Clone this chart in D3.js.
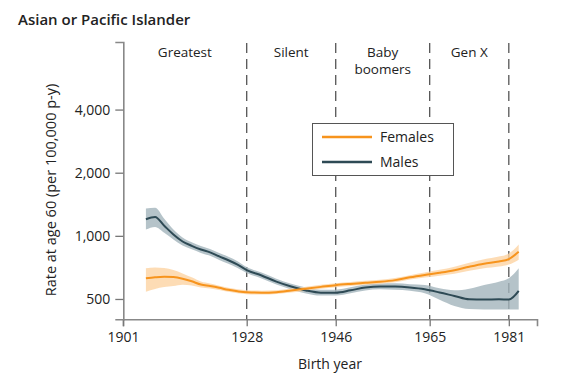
<!DOCTYPE html>
<html>
<head>
<meta charset="utf-8">
<script src="https://cdn.jsdelivr.net/npm/d3@7"></script>
<style>
  html, body { margin: 0; padding: 0; background: #fff; }
  svg { display: block; font-family: "Open Sans", sans-serif; }
</style>
</head>
<body>
<svg id="chart" width="579" height="383"></svg>
<script>
const title = "Asian or Pacific Islander";
const years = [1906, 1908, 1910, 1912, 1914, 1916, 1918, 1920, 1922, 1924, 1926, 1928, 1931, 1934, 1937, 1940, 1943, 1946, 1949, 1952, 1955, 1958, 1961, 1964, 1967, 1970, 1973, 1976, 1979, 1981, 1983];
const femalesRate = [627, 634, 638, 636, 625, 607, 586, 576, 565, 553, 544, 538, 536, 539, 549, 560, 571, 582, 590, 597, 604, 615, 634, 651, 667, 686, 712, 736, 754, 775, 839];
const femalesLow  = [541, 558, 570, 577, 585, 580, 567, 561, 552, 541, 532, 527, 525, 528, 537, 548, 559, 569, 577, 584, 591, 601, 619, 633, 646, 660, 681, 701, 714, 730, 770];
const femalesHigh = [700, 706, 702, 687, 662, 634, 605, 592, 578, 565, 556, 550, 548, 551, 561, 572, 584, 595, 603, 610, 617, 629, 649, 669, 689, 713, 744, 773, 796, 823, 910];
const malesRate = [1200, 1230, 1117, 1015, 940, 896, 861, 834, 798, 765, 729, 687, 647, 605, 573, 549, 536, 536, 550, 567, 574, 573, 567, 556, 537, 517, 498, 497, 498, 497, 547];
const malesLow  = [1072, 1103, 1034, 961, 900, 862, 829, 803, 768, 736, 702, 665, 626, 586, 555, 531, 519, 519, 532, 549, 556, 553, 548, 533, 496, 463, 448, 446, 446, 446, 446];
const malesHigh = [1350, 1360, 1206, 1072, 982, 931, 895, 866, 829, 795, 757, 710, 668, 625, 591, 567, 554, 554, 568, 586, 593, 594, 588, 583, 562, 550, 560, 583, 604, 627, 700];
const xTicks = [1901, 1928, 1946, 1965, 1981];
const yTicks = [500, 1000, 2000, 4000];
const generationNames = [["Greatest"], ["Silent"], ["Baby", "boomers"], ["Gen X"]];
const generationBounds = [1901, 1928, 1946, 1965, 1981];
const seriesNames = ["Females", "Males"];
const colors = { Females: "#F7941D", Males: "#2E4A55" };
const bandColors = { Females: "#FCD3A3", Males: "#A3B4BC" };

const svg = d3.select("#chart");
const x = d3.scaleLinear().domain([1901, 1928, 1986.7]).range([123, 246.7, 537]);
const y = d3.scaleLog().domain([400, 8400]).range([319.3, 42]);

// title
svg.append("text").attr("x", 18).attr("y", 25)
  .attr("font-size", 15).attr("font-weight", 600).attr("fill", "#222").text(title);

// dashed generation lines
svg.append("g").selectAll("line").data(generationBounds.slice(1)).join("line")
  .attr("x1", d => x(d)).attr("x2", d => x(d))
  .attr("y1", 43).attr("y2", 319)
  .attr("stroke", "#555").attr("stroke-width", 1.3)
  .attr("stroke-dasharray", "10,6");

// generation labels
generationNames.forEach((lines, i) => {
  const cx = (x(generationBounds[i]) + x(generationBounds[i + 1])) / 2;
  const t = svg.append("text").attr("text-anchor", "middle")
    .attr("font-size", 13.5).attr("fill", "#222");
  lines.forEach((ln, j) => {
    t.append("tspan").attr("x", cx).attr("y", 56.5 + j * 17.5).text(ln);
  });
});

// bands
const series = [
  { name: "Females", rate: femalesRate, low: femalesLow, high: femalesHigh },
  { name: "Males", rate: malesRate, low: malesLow, high: malesHigh }
];
const area = d3.area().curve(d3.curveMonotoneX);
const line = d3.line().curve(d3.curveMonotoneX);
series.slice().reverse().forEach(s => {
  svg.append("path")
    .attr("d", area.x((d, i) => x(years[i])).y0((d, i) => y(s.low[i])).y1((d, i) => y(s.high[i]))(years))
    .attr("fill", bandColors[s.name]).attr("fill-opacity", 0.8);
});
series.slice().reverse().forEach(s => {
  svg.append("path")
    .attr("d", line.x((d, i) => x(years[i])).y((d, i) => y(s.rate[i]))(years))
    .attr("fill", "none").attr("stroke", colors[s.name]).attr("stroke-width", 2);
});

// axes
const xAxis = svg.append("g").attr("transform", "translate(0,319.3)")
  .call(d3.axisBottom(x).tickValues(xTicks).tickFormat(d3.format("d")).tickSizeOuter(0).tickSize(7).tickPadding(6));
const yAxis = svg.append("g").attr("transform", "translate(123.3,0)")
  .call(d3.axisLeft(y).tickValues(yTicks).tickFormat(d3.format(",")).tickSizeOuter(0).tickSize(8).tickPadding(5));
[xAxis, yAxis].forEach(a => {
  a.select(".domain").attr("stroke", "#888").attr("stroke-width", 1.6);
  a.selectAll(".tick line").attr("stroke", "#777").attr("stroke-width", 1.3);
  a.selectAll(".tick text").attr("font-size", 14).attr("fill", "#222").attr("font-family", "Open Sans, sans-serif");
});

// axis titles
svg.append("text").attr("x", 330).attr("y", 369).attr("text-anchor", "middle")
  .attr("font-size", 14).attr("fill", "#222").text("Birth year");
svg.append("text").attr("transform", "translate(56,190) rotate(-90)").attr("text-anchor", "middle")
  .attr("font-size", 14.5).attr("fill", "#222").text("Rate at age 60 (per 100,000 p-y)");

// legend
const lg = svg.append("g");
lg.append("rect").attr("x", 312.5).attr("y", 123.5).attr("width", 141).attr("height", 52)
  .attr("fill", "#fff").attr("stroke", "#555").attr("stroke-width", 1);
seriesNames.forEach((n, i) => {
  const yy = 137 + i * 25;
  lg.append("line").attr("x1", 322).attr("x2", 372).attr("y1", yy).attr("y2", yy)
    .attr("stroke", colors[n]).attr("stroke-width", 2.5);
  lg.append("text").attr("x", 380).attr("y", yy + 5).attr("font-size", 14).attr("fill", "#222").text(n);
});
</script>
</body>
</html>
